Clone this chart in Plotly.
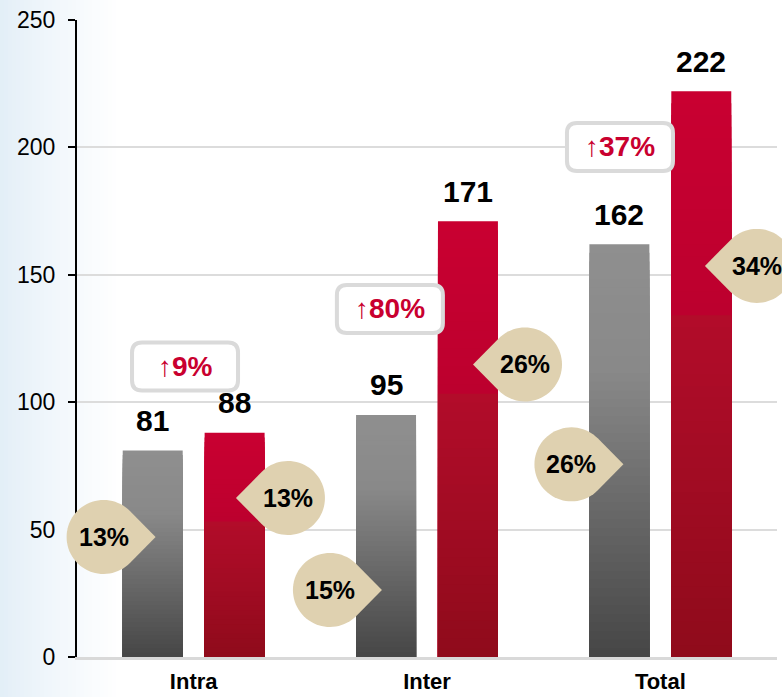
import math
import plotly.graph_objects as go

# ---------------- data ----------------
categories = ["Intra", "Inter", "Total"]
before_values = [81, 95, 162]
after_values = [88, 171, 222]
before_share = ["13%", "15%", "26%"]
after_share = ["13%", "26%", "34%"]
growth_labels = ["↑9%", "↑80%", "↑37%"]
y_tick_values = [0, 50, 100, 150, 200, 250]

# ---------------- layout / style constants ----------------
FONT = "Liberation Sans, Arial, sans-serif"
BAR_W = 0.257
GRAY_OFF = -0.304
RED_OFF = 0.047
N_SLICES = 48

# bubble centres (x in category units, y in data units)
before_bubble_pos = [(-0.386, 47.1), (0.584, 26.3), (1.619, 75.6)]
after_bubble_pos = [(0.404, 62.4), (1.420, 114.8), (2.414, 153.5)]
growth_box_pos = [(-0.037, 114.0), (0.841, 136.6), (1.827, 200.2)]

BUBBLE_R = 37
BUBBLE_TIP = 52
BUBBLE_COLOR = "#dfd1b0"
BOX_COLOR = "#dadada"
RED_TEXT = "#c9002f"


def lerp(a, b, t):
    return tuple(a[i] + (b[i] - a[i]) * t for i in range(3))


def gray_grad(t):
    if t < 0.3:
        c = lerp((143, 143, 143), (137, 137, 137), t / 0.3)
    else:
        c = lerp((137, 137, 137), (70, 70, 70), (t - 0.3) / 0.7)
    return "rgb(%d,%d,%d)" % tuple(round(v) for v in c)


def red_grad(t):
    if t < 0.4:
        c = lerp((201, 0, 49), (188, 0, 46), t / 0.4)
    else:
        c = lerp((178, 12, 42), (143, 11, 27), (t - 0.4) / 0.6)
    return "rgb(%d,%d,%d)" % tuple(round(v) for v in c)


fig = go.Figure()
xs = list(range(len(categories)))

# gradient bars: overlapping bars of decreasing height
for values, offset, grad in ((before_values, GRAY_OFF, gray_grad),
                             (after_values, RED_OFF, red_grad)):
    for k in range(N_SLICES):
        frac = 1 - k / N_SLICES
        fig.add_trace(go.Bar(
            x=xs,
            y=[v * frac for v in values],
            width=BAR_W,
            offset=offset,
            marker=dict(color=grad((k + 0.5) / N_SLICES), line=dict(width=0)),
            hoverinfo="skip",
            showlegend=False,
        ))


def x_to_paper(x):
    return (x + 0.5) / len(categories)


def bubble_path(direction):
    r, d = BUBBLE_R, BUBBLE_TIP
    th = math.acos(r / d)
    pts = [(direction * d, 0.0)]
    n = 60
    for i in range(n + 1):
        a = th + (2 * math.pi - 2 * th) * i / n
        pts.append((direction * r * math.cos(a), r * math.sin(a)))
    return "M " + " L ".join("%.2f,%.2f" % p for p in pts) + " Z"


def box_path(hw=53, hh=24, rr=10):
    return (f"M {-hw+rr},{hh} L {hw-rr},{hh} Q {hw},{hh} {hw},{hh-rr} "
            f"L {hw},{-hh+rr} Q {hw},{-hh} {hw-rr},{-hh} "
            f"L {-hw+rr},{-hh} Q {-hw},{-hh} {-hw},{-hh+rr} "
            f"L {-hw},{hh-rr} Q {-hw},{hh} {-hw+rr},{hh} Z")


shapes = []
# left light-blue background fade
n_strips = 30
for i in range(n_strips):
    px0 = i * 4
    px1 = px0 + 4
    t = (i + 0.5) / n_strips
    c = lerp((226, 238, 247), (255, 255, 255), t ** 0.85)
    shapes.append(dict(
        type="rect", xref="paper", yref="paper",
        x0=(px0 - 77) / 700, x1=(px1 - 77) / 700,
        y0=-40 / 637, y1=1 + 20 / 637,
        fillcolor="rgb(%d,%d,%d)" % tuple(round(v) for v in c),
        line=dict(width=0), layer="below",
    ))

annotations = []

# bubbles
for positions, labels, direction in ((before_bubble_pos, before_share, 1),
                                     (after_bubble_pos, after_share, -1)):
    for (bx, by), lab in zip(positions, labels):
        shapes.append(dict(
            type="path", xref="paper", yref="y",
            xsizemode="pixel", ysizemode="pixel",
            xanchor=x_to_paper(bx), yanchor=by,
            path=bubble_path(direction),
            fillcolor=BUBBLE_COLOR, line=dict(width=0), layer="above",
        ))
        annotations.append(dict(
            x=x_to_paper(bx), y=by, xref="paper", yref="y",
            text=lab, showarrow=False, xanchor="center", yanchor="middle",
            font=dict(family=FONT, size=25, color="black", weight="bold"),
        ))

# growth call-out boxes
for (gx, gy), lab in zip(growth_box_pos, growth_labels):
    shapes.append(dict(
        type="path", xref="x", yref="y",
        xsizemode="pixel", ysizemode="pixel",
        xanchor=gx, yanchor=gy,
        path=box_path(),
        fillcolor="white", line=dict(color=BOX_COLOR, width=4), layer="above",
    ))
    annotations.append(dict(
        x=gx, y=gy, xref="x", yref="y",
        text=lab, showarrow=False, xanchor="center", yanchor="middle",
        font=dict(family=FONT, size=28, color=RED_TEXT, weight="bold"),
    ))

# value labels
for values, offset in ((before_values, GRAY_OFF), (after_values, RED_OFF)):
    for i, v in enumerate(values):
        annotations.append(dict(
            x=i + offset + BAR_W / 2, y=v, xref="x", yref="y",
            text=str(v), showarrow=False, xanchor="center", yanchor="middle",
            yshift=30,
            font=dict(family=FONT, size=30, color="black", weight="bold"),
        ))

fig.update_layout(
    width=782, height=697,
    margin=dict(l=77, r=5, t=20, b=40),
    barmode="overlay",
    paper_bgcolor="white",
    plot_bgcolor="rgba(0,0,0,0)",
    showlegend=False,
    font=dict(family=FONT, color="black"),
    shapes=shapes,
    annotations=annotations,
    xaxis=dict(
        range=[-0.5, len(categories) - 0.5],
        tickmode="array", tickvals=xs, ticktext=categories,
        tickfont=dict(family=FONT, size=22, color="black", weight="bold"),
        showgrid=False, zeroline=False,
        showline=True, linecolor="#d9d9d9", linewidth=3,
        ticks="", ticklabelstandoff=3, automargin=False,
    ),
    yaxis=dict(
        range=[0, 250],
        tickmode="array", tickvals=y_tick_values,
        tickfont=dict(family=FONT, size=23, color="black"),
        showgrid=True, gridcolor="#dcdcdc", gridwidth=2,
        zeroline=False,
        showline=True, linecolor="black", linewidth=2,
        ticks="outside", ticklen=7, tickwidth=2, tickcolor="black",
        ticklabelstandoff=8, automargin=False,
    ),
)

fig.write_html(
    "out.html",
    config={"displayModeBar": False},
    post_script="document.body.style.margin='0';document.body.style.padding='0';",
)
